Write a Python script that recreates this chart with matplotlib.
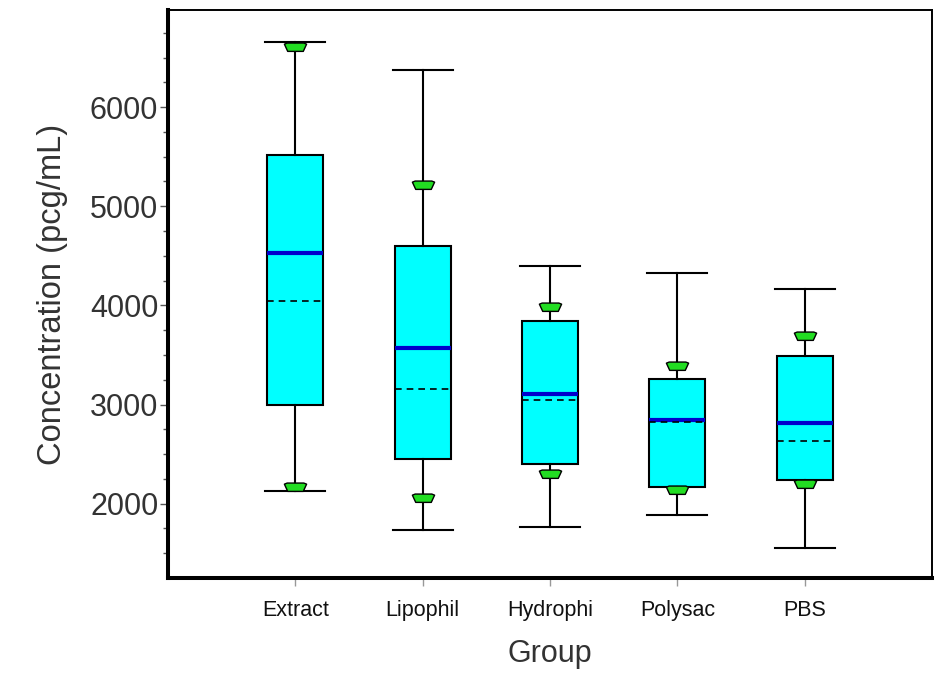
import matplotlib
matplotlib.use("Agg")
import matplotlib.pyplot as plt
from matplotlib.path import Path

plt.rcParams['font.family'] = ['Liberation Sans', 'DejaVu Sans']

groups = ["Extract", "Lipophil", "Hydrophi", "Polysac", "PBS"]
whisker_low = [2130, 1730, 1760, 1890, 1550]
pct_low = [2170, 2060, 2300, 2140, 2200]
q1 = [3000, 2450, 2400, 2170, 2235]
median = [4530, 3570, 3110, 2845, 2810]
mean = [4045, 3160, 3050, 2820, 2635]
q3 = [5515, 4600, 3845, 3260, 3485]
pct_high = [6605, 5215, 3985, 3390, 3695]
whisker_high = [6660, 6375, 4400, 4330, 4165]

stats = []
for i, g in enumerate(groups):
    stats.append({"label": g, "whislo": whisker_low[i], "q1": q1[i], "med": median[i],
                  "mean": mean[i], "q3": q3[i], "whishi": whisker_high[i], "fliers": []})

fig = plt.figure(figsize=(9.47, 6.89), dpi=100)
ax = fig.add_axes([0.1774, 0.1611, 0.8068, 0.8244])

pos = list(range(1, len(groups) + 1))
ax.bxp(stats, positions=pos, widths=0.44, capwidths=0.47, patch_artist=True,
       showmeans=True, meanline=True, showfliers=False,
       boxprops=dict(facecolor="#00ffff", edgecolor="black", linewidth=1.5),
       medianprops=dict(color="#0000cc", linewidth=3),
       meanprops=dict(color="black", linestyle=(0, (4, 3)), linewidth=1.2),
       whiskerprops=dict(color="black", linewidth=1.5),
       capprops=dict(color="black", linewidth=1.5))

# flattened hexagon marker for the percentile points
verts = [(-1, 0.3), (-0.75, 0.4), (0.75, 0.4), (1, 0.3), (0.7, -0.35), (-0.7, -0.35), (-1, 0.3)]
codes = [Path.MOVETO] + [Path.LINETO] * 5 + [Path.CLOSEPOLY]
hexm = Path(verts, codes)
for pts in (pct_low, pct_high):
    ax.plot(pos, pts, linestyle="none", marker=hexm, markersize=16,
            markerfacecolor="#22dd22", markeredgecolor="black", markeredgewidth=1, zorder=5)

ax.set_xlim(0, 6)
ax.set_ylim(1250, 6980)
ax.set_yticks([2000, 3000, 4000, 5000, 6000])
ax.set_yticks([1500 + 250 * k for k in range(22) if (1500 + 250 * k) % 1000 != 0], minor=True)
ax.set_xticks(pos)
ax.set_xticklabels(groups, fontsize=15.5, color="#111111")
ax.tick_params(axis="y", labelsize=22, labelcolor="#333333", length=6, width=1, color="#555555", pad=1)
ax.tick_params(axis="y", which="minor", length=3.5, width=1, color="#555555")
ax.tick_params(axis="x", length=6, width=1, color="#999999", pad=10)

ax.set_xlabel("Group", fontsize=22, labelpad=13, color="#333333")
ax.set_ylabel("Concentration (pcg/mL)", fontsize=23.5, labelpad=16, color="#333333")

ax.spines["left"].set_linewidth(2.9)
ax.spines["bottom"].set_linewidth(2.9)
ax.spines["top"].set_linewidth(1.4)
ax.spines["right"].set_linewidth(1.4)

fig.savefig("out.png", dpi=100)
